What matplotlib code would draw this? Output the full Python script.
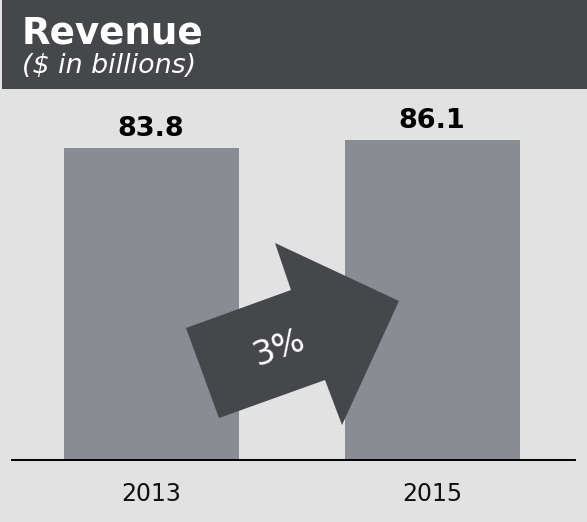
import matplotlib
matplotlib.use("Agg")
import matplotlib.pyplot as plt
from matplotlib.patches import Rectangle, Polygon
from matplotlib.transforms import Affine2D

years = ["2013", "2015"]
revenue = [83.8, 86.1]
growth_label = "3%"
title = "Revenue"
subtitle = "($ in billions)"

W, H = 587, 522
BG = "#e1e2e1"
DARK = "#46474b"
BAR = "#8a8c93"

fig = plt.figure(figsize=(W / 100, H / 100), dpi=100, facecolor=BG)

# header band
fig.patches.append(Rectangle((2 / W, 1 - 89 / H), 1, 89 / H, transform=fig.transFigure,
                             facecolor=DARK, edgecolor="none", zorder=0))
fig.text(22 / W, 1 - 43 / H, title, color="white", fontsize=26.8, fontweight="bold",
         va="baseline", ha="left", family="DejaVu Sans")
fig.text(22 / W, 1 - 73 / H, subtitle, color="white", fontsize=19.4, style="italic",
         va="baseline", ha="left", family="DejaVu Sans")

# bar axes
left_px, right_px = 12, 575
base_px, top_px = 460, 92
ax = fig.add_axes([left_px / W, 1 - base_px / H, (right_px - left_px) / W, (base_px - top_px) / H])
ax.set_facecolor("none")
x = [0, 1]
ppu = 281.0
ax.set_xlim(-(151 - left_px) / ppu, 1 + (right_px - 432) / ppu)
ax.set_ylim(0, (base_px - top_px) / 3.72)
bars = ax.bar(x, revenue, width=175 / ppu, color=BAR, zorder=1)
for xi, v in zip(x, revenue):
    ax.annotate(f"{v:.1f}", (xi, v), xytext=(0, 8.5), textcoords="offset points",
                ha="center", va="baseline", fontsize=19.5, fontweight="bold", color="black")
ax.axhline(0, color="black", lw=1.4, zorder=3, clip_on=False)
for s in ax.spines.values():
    s.set_visible(False)
ax.set_xticks(x)
ax.set_xticklabels(years, fontsize=17, color="#111111")
ax.tick_params(axis="x", length=0, pad=16)
ax.set_yticks([])

# growth arrow (decoration, in figure pixels, y down)
px = Affine2D().scale(1 / W, -1 / H).translate(0, 1) + fig.transFigure
arrow_pts = [(186, 328), (291, 290), (275, 243), (399, 301), (342, 425), (325, 380), (219, 418)]
fig.patches.append(Polygon(arrow_pts, closed=True, transform=px, facecolor=DARK,
                           edgecolor="none", zorder=5))
fig.text(279 / W, 1 - 348 / H, growth_label, color="white", fontsize=24, rotation=20,
         ha="center", va="center", rotation_mode="anchor", zorder=6, family="DejaVu Sans")

fig.savefig("out.png", dpi=100, facecolor=BG)
